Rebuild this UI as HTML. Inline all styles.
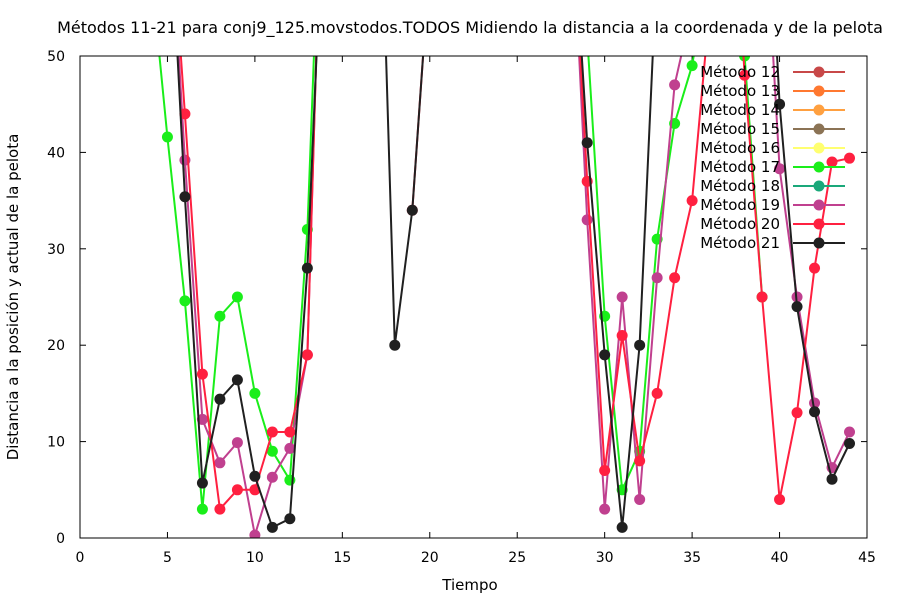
<!DOCTYPE html>
<html><head><meta charset="utf-8"><style>
body{margin:0;background:#fff}
svg{display:block;font-family:"DejaVu Sans","Liberation Sans",sans-serif}
</style></head><body>
<svg id="chart" width="900" height="600" viewBox="0 0 900 600">
<rect width="900" height="600" fill="#fff"/>
<text x="470" y="33" font-size="16" text-anchor="middle" fill="#000">Métodos 11-21 para conj9_125.movstodos.TODOS Midiendo la distancia a la coordenada y de la pelota</text>
<text x="470" y="590" font-size="15" text-anchor="middle">Tiempo</text>
<text transform="translate(18,297) rotate(-90)" font-size="15" text-anchor="middle">Distancia a la posición y actual de la pelota</text>
<g id="axes"></g>
<defs><clipPath id="clip"><rect x="80" y="56" width="787" height="482"/></clipPath></defs>
<g id="series" clip-path="url(#clip)"></g>
<g id="legend"></g>
<rect x="80" y="56" width="787" height="482" fill="none" stroke="#000" stroke-width="1"/>
</svg>
<script>
const xTicks=[0,5,10,15,20,25,30,35,40,45];
const yTicks=[0,10,20,30,40,50];
const legendNames=["Método 12","Método 13","Método 14","Método 15","Método 16","Método 17","Método 18","Método 19","Método 20","Método 21"];
const legendColors=["#c84848","#ff7830","#ffa040","#8b7355","#ffff70","#1aee1a","#1aa87a","#c0408f","#ff2040","#202020"];
const s17x=[4,5,6,7,8,9,10,11,12,13,14,29,30,31,32,33,34,35,36,38,39];
const s17y=[60,41.6,24.6,3,23,25,15,9,6,32,80,52,23,5,9,31,43,49,60,50,25];
const s19x=[5,6,7,8,9,10,11,12,13,14,20,28,29,30,31,32,33,34,35,39,40,41,42,43,44];
const s19y=[70,39.2,12.3,7.8,9.9,0.3,6.3,9.3,19,80,null,70,33,3,25,4,27,47,55,70,38.3,25,14,7.3,11];
const s20x=[5,6,7,8,9,10,11,12,13,14,18,19,20,28,29,30,31,32,33,34,35,36,37,38,39,40,41,42,43,44];
const s20y=[70,44,17,3,5,5,11,11,19,80,null,34,60,70,37,7,21,8,15,27,35,55,80,48,25,4,13,28,39,39.4];
const s21x=[5,6,7,8,9,10,11,12,13,14,17,18,19,20,28,29,30,31,32,33,39,40,41,42,43,44];
const s21y=[70,35.4,5.7,14.4,16.4,6.4,1.1,2,28,70,80,20,34,60,70,41,19,1.1,20,60,80,45,24,13.1,6.1,9.8];
const X=v=>80+v*787/45, Y=v=>538-v*482/50;
const NS="http://www.w3.org/2000/svg";
function mk(tag,attrs,parent){const e=document.createElementNS(NS,tag);for(const k in attrs)e.setAttribute(k,attrs[k]);parent.appendChild(e);return e;}
const axes=document.getElementById('axes');
xTicks.forEach(t=>{
  const l=mk('line',{x1:X(t),x2:X(t),y1:538,y2:532,stroke:'#000'},axes);
  
  
  mk('line',{x1:X(t),x2:X(t),y1:56,y2:62,stroke:'#000'},axes);
  const tx=mk('text',{x:X(t),y:562,'font-size':14,'text-anchor':'middle'},axes);tx.textContent=t;
  
  
});
yTicks.forEach(t=>{
  const l=mk('line',{x1:80,x2:86,y1:Y(t),y2:Y(t),stroke:'#000'},axes);
  
  
  mk('line',{x1:867,x2:861,y1:Y(t),y2:Y(t),stroke:'#000'},axes);
  const tx=mk('text',{x:65,y:Y(t)+5,'font-size':14,'text-anchor':'end'},axes);tx.textContent=t;
  
  
});
const sg=document.getElementById('series');
function series(xs,ys,color,name){
  const g=mk('g',{},sg);
  
  
  let d='',pen=false;
  xs.forEach((x,i)=>{const y=ys[i];if(y===null){pen=false;return;}d+=(pen?'L':'M')+X(x).toFixed(1)+','+Y(y).toFixed(1);pen=true;});
  mk('path',{d:d,fill:'none',stroke:color,'stroke-width':2},g);
  xs.forEach((x,i)=>{const y=ys[i];if(y===null||y>51)return;
    const c=mk('circle',{cx:X(x),cy:Y(y),r:5.5,fill:color},g);
    
    
  });
}
series(s17x,s17y,legendColors[5],'series-metodo-17');
series(s19x,s19y,legendColors[7],'series-metodo-19');
series(s20x,s20y,legendColors[8],'series-metodo-20');
series(s21x,s21y,legendColors[9],'series-metodo-21');
const lg=document.getElementById('legend');
legendNames.forEach((n,i)=>{
  const y=72+i*19;
  const g=mk('g',{},lg);
  
  
  const t=mk('text',{x:780,y:y+5,'font-size':15,'text-anchor':'end'},g);t.textContent=n;
  mk('line',{x1:793,x2:845,y1:y,y2:y,stroke:legendColors[i],'stroke-width':2},g);
  mk('circle',{cx:819,cy:y,r:5.5,fill:legendColors[i]},g);
});
</script>
</body></html>
